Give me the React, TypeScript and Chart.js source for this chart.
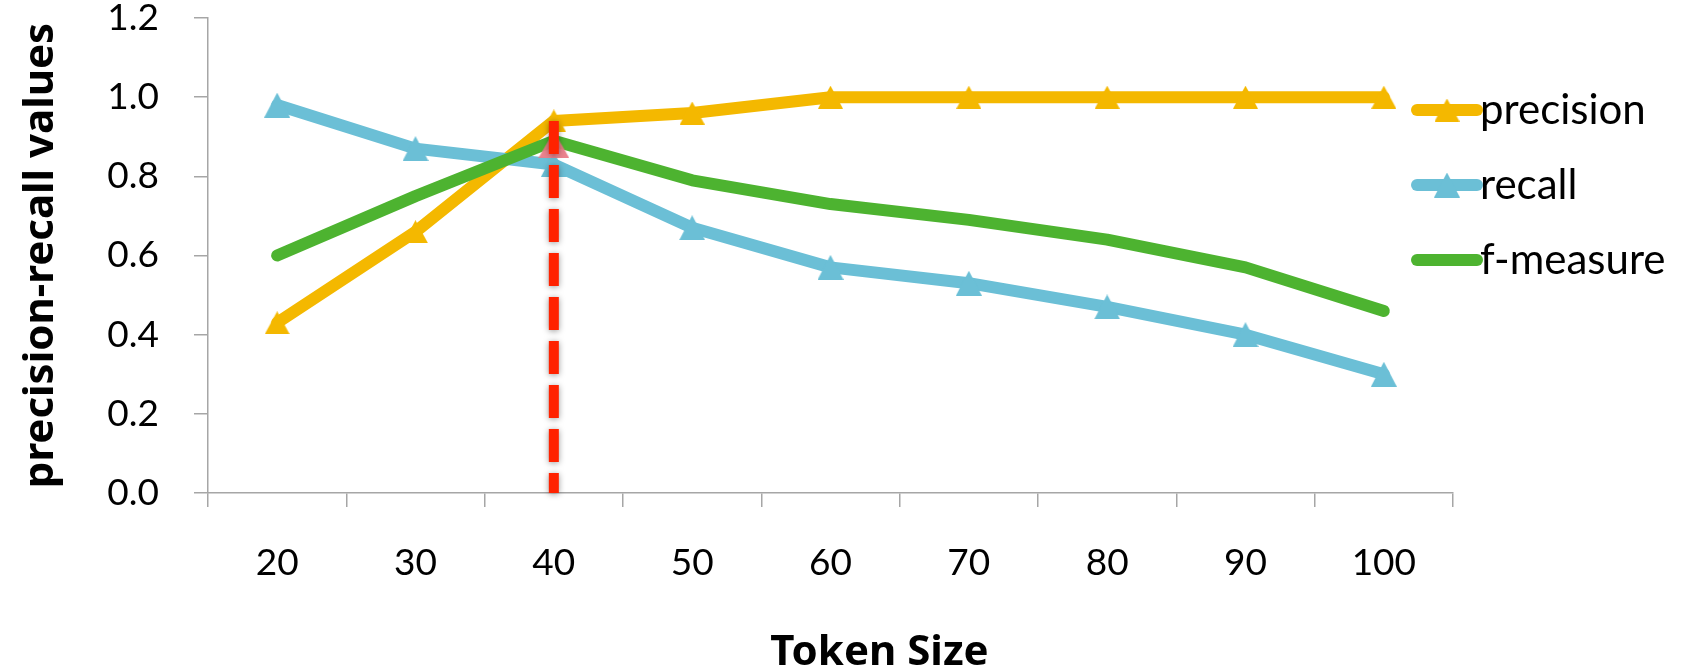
import React, { useEffect, useRef } from 'react';
import { Chart, registerables } from 'chart.js';

Chart.register(...registerables);

// Token sizes on the x axis
const tokenSizes = ['20', '30', '40', '50', '60', '70', '80', '90', '100'];

// Series values per token size
const precision = [0.43, 0.66, 0.94, 0.96, 1.0, 1.0, 1.0, 1.0, 1.0];
const recall = [0.98, 0.87, 0.83, 0.67, 0.57, 0.53, 0.47, 0.4, 0.3];
const fMeasure = [0.6, 0.75, 0.89, 0.79, 0.73, 0.69, 0.64, 0.57, 0.46];

// Highlighted optimum: vertical cut at token size 40 with a peak marker
const cutToken = '40';
const cutTop = 0.94;
const cutBottom = 0;
const peakValue = 0.88;

const Y_MIN = 0;
const Y_MAX = 1.2;
const Y_STEP = 0.2;

const X_TITLE = 'Token Size';
const Y_TITLE = 'precision-recall values';

const COLORS = {
  precision: '#F4B800',
  recall: '#6BBFD6',
  fMeasure: '#4DB330',
  cut: '#FF2200',
  peak: 'rgba(234, 124, 136, 0.95)',
  axis: '#A6A6A6',
};

const TICK_FONT = { family: 'Lato, "Open Sans", sans-serif', size: 37 };
const LEGEND_FONT_SIZE = 42;
const TITLE_FONT = { family: '"Noto Sans", "Open Sans", sans-serif', size: 42, weight: 'bold' as const, lineHeight: 0.8 };

// Triangle marker bitmap, centred on its bounding box when drawn as a point
function triangleMarker(color: string, w: number, h: number): HTMLCanvasElement {
  const c = document.createElement('canvas');
  c.width = w;
  c.height = h;
  const g = c.getContext('2d')!;
  g.fillStyle = color;
  g.beginPath();
  g.moveTo(w / 2, 0);
  g.lineTo(w, h);
  g.lineTo(0, h);
  g.closePath();
  g.fill();
  return c;
}

// Draws a soft shadow around the dashed cut line
const shadowPlugin = {
  id: 'cutShadow',
  beforeDatasetDraw(chart: any, args: any) {
    const ds = chart.data.datasets[args.index];
    if (!ds.castShadow) return;
    const ctx = chart.ctx;
    ctx.save();
    ctx.shadowColor = 'rgba(0,0,0,0.4)';
    ctx.shadowBlur = 6;
    ctx.shadowOffsetX = 0;
    ctx.shadowOffsetY = 1;
  },
  afterDatasetDraw(chart: any, args: any) {
    const ds = chart.data.datasets[args.index];
    if (!ds.castShadow) return;
    chart.ctx.restore();
  },
};

// Legend at the right edge of the plot: line sample with marker, then label
const sideLegendPlugin = {
  id: 'sideLegend',
  afterDraw(chart: any) {
    const { ctx, chartArea } = chart;
    const items = chart.data.datasets.filter((d: any) => d.inLegend);
    const x0 = chartArea.right - 36;
    const x1 = x0 + 60;
    const firstRow = chartArea.top + 92;
    const rowGap = 75;
    ctx.save();
    items.forEach((d: any, i: number) => {
      const y = firstRow + i * rowGap;
      ctx.strokeStyle = d.borderColor;
      ctx.lineWidth = d.borderWidth;
      ctx.lineCap = 'round';
      ctx.beginPath();
      ctx.moveTo(x0, y);
      ctx.lineTo(x1, y);
      ctx.stroke();
      const marker = d.pointStyle;
      if (marker && typeof marker !== 'string' && d.pointRadius > 0) {
        ctx.drawImage(marker, (x0 + x1) / 2 - marker.width / 2, y - marker.height / 2);
      }
      ctx.fillStyle = '#000';
      ctx.font = `${LEGEND_FONT_SIZE}px ${TICK_FONT.family}`;
      ctx.textBaseline = 'middle';
      ctx.textAlign = 'left';
      ctx.fillText(d.label, x1 + 3, y);
    });
    ctx.restore();
  },
};

// X axis title, set a little right of the plot centre
const xTitlePlugin = {
  id: 'xTitle',
  afterDraw(chart: any) {
    const { ctx, chartArea, height } = chart;
    ctx.save();
    ctx.fillStyle = '#000';
    ctx.font = `${TITLE_FONT.weight} ${TITLE_FONT.size}px ${TITLE_FONT.family}`;
    ctx.textAlign = 'center';
    ctx.textBaseline = 'middle';
    ctx.fillText(X_TITLE, (chartArea.left + chartArea.right) / 2 + 49, height - 14);
    ctx.restore();
  },
};

export default function App() {
  const canvasRef = useRef<HTMLCanvasElement | null>(null);

  useEffect(() => {
    if (!canvasRef.current) return;
    const lineStyle = {
      borderWidth: 12,
      borderCapStyle: 'round' as const,
      borderJoinStyle: 'round' as const,
      tension: 0,
      fill: false,
    };
    const precisionMarker = triangleMarker(COLORS.precision, 25, 23);
    const recallMarker = triangleMarker(COLORS.recall, 26, 25);
    const peakMarker = triangleMarker(COLORS.peak, 31, 27);
    const chart = new Chart(canvasRef.current, {
      type: 'line',
      data: {
        labels: tokenSizes,
        datasets: [
          {
            label: 'precision',
            data: precision,
            borderColor: COLORS.precision,
            backgroundColor: COLORS.precision,
            pointBackgroundColor: COLORS.precision,
            pointBorderWidth: 0,
            pointStyle: precisionMarker,
            pointRadius: 12,
            order: 5,
            inLegend: true,
            ...lineStyle,
          } as any,
          {
            label: 'recall',
            data: recall,
            borderColor: COLORS.recall,
            backgroundColor: COLORS.recall,
            pointBackgroundColor: COLORS.recall,
            pointBorderWidth: 0,
            pointStyle: recallMarker,
            pointRadius: 12,
            order: 4,
            inLegend: true,
            ...lineStyle,
          } as any,
          {
            label: 'f-measure',
            data: fMeasure,
            borderColor: COLORS.fMeasure,
            backgroundColor: COLORS.fMeasure,
            pointBackgroundColor: COLORS.fMeasure,
            pointRadius: 0,
            order: 3,
            inLegend: true,
            ...lineStyle,
          } as any,
          {
            type: 'scatter',
            label: 'peak',
            data: [{ x: cutToken, y: peakValue }],
            showLine: false,
            pointStyle: peakMarker,
            pointRadius: 14,
            pointBorderWidth: 0,
            pointBackgroundColor: COLORS.peak,
            pointBorderColor: COLORS.peak,
            backgroundColor: COLORS.peak,
            borderColor: COLORS.peak,
            order: 2,
          } as any,
          {
            label: 'cut',
            data: [
              { x: cutToken, y: cutTop },
              { x: cutToken, y: cutBottom },
            ],
            borderColor: COLORS.cut,
            borderWidth: 10,
            borderDash: [33, 11],
            borderCapStyle: 'butt',
            pointRadius: 0,
            clip: false,
            order: 1,
            castShadow: true,
          } as any,
        ],
      },
      options: {
        animation: false,
        responsive: false,
        maintainAspectRatio: false,
        layout: { padding: { top: 18, right: 239, left: 0, bottom: 0 } },
        plugins: {
          legend: { display: false },
          tooltip: { enabled: false },
        },
        scales: {
          x: {
            type: 'category',
            offset: true,
            grid: {
              offset: true,
              drawOnChartArea: false,
              drawTicks: true,
              tickLength: 14,
              color: COLORS.axis,
              lineWidth: 1.5,
            },
            border: { color: COLORS.axis, width: 1.5 },
            ticks: {
              font: TICK_FONT,
              color: '#000',
              padding: 34,
              maxRotation: 0,
            },
            title: { display: false, text: X_TITLE },
            afterFit: (s: any) => {
              s.height = 667 - 493;
              s.paddingLeft = 0;
              s.paddingRight = 0;
            },
          },
          y: {
            min: Y_MIN,
            max: Y_MAX,
            grid: {
              drawOnChartArea: false,
              drawTicks: true,
              tickLength: 14,
              color: COLORS.axis,
              lineWidth: 1.5,
            },
            border: { color: COLORS.axis, width: 1.5 },
            ticks: {
              stepSize: Y_STEP,
              font: TICK_FONT,
              color: '#000',
              padding: 35,
              callback: (v: any) => Number(v).toFixed(1),
            },
            title: {
              display: true,
              text: Y_TITLE,
              font: TITLE_FONT,
              color: '#000',
              padding: { top: 24, bottom: 0 },
            },
            afterFit: (s: any) => {
              s.width = 208;
              s.paddingTop = 0;
              s.paddingBottom = 0;
            },
          },
        },
      },
      plugins: [shadowPlugin, sideLegendPlugin, xTitlePlugin],
    });
    return () => chart.destroy();
  }, []);

  return (
    <div style={{ position: 'fixed', left: 0, top: 0, width: 1692, height: 667, background: '#fff' }}>
      <canvas ref={canvasRef} width={1692} height={667} style={{ width: 1692, height: 667, display: 'block' }} />
    </div>
  );
}
